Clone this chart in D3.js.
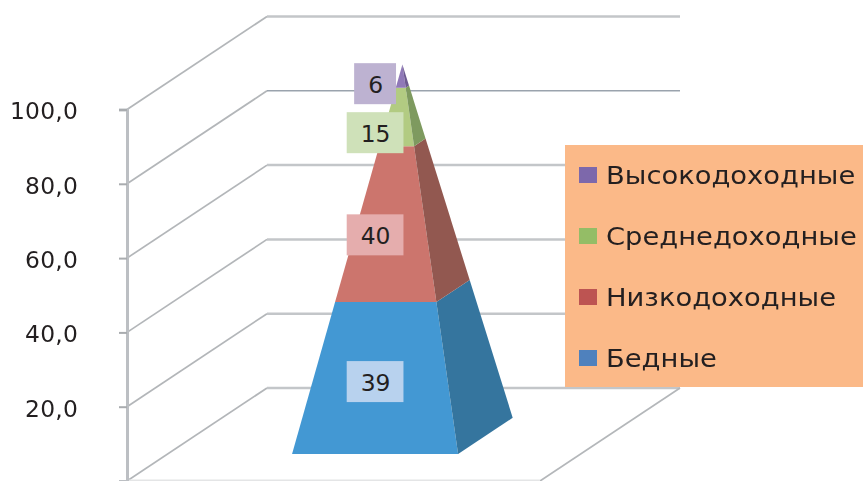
<!DOCTYPE html>
<html>
<head>
<meta charset="utf-8">
<style>
    html, body { margin: 0; padding: 0; background: #fff; overflow: hidden; }
    svg { filter: blur(0.4px); }
    text { font-family: "DejaVu Sans", sans-serif; fill: #231f20; }
</style>
<script src="https://cdn.jsdelivr.net/npm/d3@7"></script>
</head>
<body>
<div id="chart"></div>
<script>
// chart values
const categories = ['Доходы'];
const seriesNames = ['Бедные', 'Низкодоходные', 'Среднедоходные', 'Высокодоходные'];
const seriesValues = [39, 40, 15, 6];
const tickValues = [20, 40, 60, 80, 100];
const gridValues = [0, 20, 40, 60, 80, 100];

// colors, same order as the series
const frontColors = ['#4398d3', '#cc756d', '#b2cb82', '#9079b8'];
const sideColors = ['#35759e', '#925850', '#7e9a5f', '#6d5a90'];
const legendColors = ['#4f81bd', '#bd5452', '#94bd66', '#7d68ab'];
const labelColors = ['#b8d2ee', '#e5adad', '#cfe1b9', '#bdb2d1'];

const width = 863;
const height = 481;

const svg = d3.select('#chart').append('svg')
    .attr('width', width)
    .attr('height', height)
    .style('display', 'block');

// front plane of the 3d box
const y = d3.scaleLinear().domain([0, 100]).range([481, 109.5]);
const x = d3.scaleBand().domain(categories).range([127, 540])
    .paddingInner(0.4265).paddingOuter(0.4265).align(0.504);

// depth goes up and to the right, 0 = front wall, 1 = back wall
const depthX = d3.scaleLinear().domain([0, 1]).range([0, 140]);
const depthY = d3.scaleLinear().domain([0, 1]).range([0, -93]);
const depthFront = 0.29;
const depthBack = 0.68;
const depthMid = (depthFront + depthBack) / 2;

const project = (px, value, depth) => [px + depthX(depth), y(value) + depthY(depth)];

// gridlines: side wall then back wall
const wallRight = 680;
const grid = svg.append('g').attr('fill', 'none');

grid.selectAll('.side')
    .data(gridValues)
    .enter().append('path')
    .classed('side', true)
    .attr('stroke', '#b3b6b9')
    .attr('stroke-width', 1.7)
    .attr('d', d => d3.line()([
        project(x.range()[0], d, 0),
        project(x.range()[0], d, 1)
    ]));

grid.selectAll('.back')
    .data(gridValues)
    .enter().append('path')
    .classed('back', true)
    // the 80 line came out thinner and darker in the original
    .attr('stroke', d => d === 80 ? '#9aa3ad' : '#c3c6c9')
    .attr('stroke-width', d => d === 80 ? 1.5 : 2.5)
    .attr('d', d => d3.line()([
        project(x.range()[0], d, 1),
        [wallRight, y(d) + depthY(1)]
    ]));

// floor edges, right side and front
grid.append('path')
    .attr('stroke', '#b4b7ba')
    .attr('stroke-width', 1.7)
    .attr('d', d3.line()([project(x.range()[1], 0, 1), project(x.range()[1], 0, 0)]));

grid.append('path')
    .attr('stroke', '#e4e5e6')
    .attr('stroke-width', 1.5)
    .attr('d', d3.line()([[x.range()[0], y(0) - 0.8], [x.range()[1], y(0) - 0.8]]));

// value axis
const axis = svg.append('g')
    .attr('transform', `translate(${x.range()[0]},0)`)
    .call(d3.axisLeft(y)
        .tickValues(tickValues)
        .tickSize(8)
        .tickPadding(41)
        .tickFormat(d => d3.format('.1f')(d).replace('.', ',')));

axis.select('.domain')
    .attr('stroke', '#bcbfc3')
    .attr('stroke-width', 3);
axis.selectAll('.tick line')
    .attr('stroke', '#a9acaf')
    .attr('stroke-width', 2);
axis.selectAll('.tick text')
    .attr('dy', '0.4em')
    .style('font-size', '23.4px')
    .style('letter-spacing', '0.2px');

// pyramid layers
const cx = x(categories[0]) + x.bandwidth() / 2;
const halfW = x.bandwidth() / 2;
const halfD = (depthBack - depthFront) / 2;
const tops = d3.cumsum(seriesValues);
const layers = seriesValues.map((v, i) => ({
    name: seriesNames[i],
    value: v,
    from: tops[i] - v,
    to: tops[i],
    index: i
}));

// corner of the pyramid at a stacked value; sx -1/1 left/right, sd -1/1 front/back
const corner = (value, sx, sd) => {
    const k = 1 - value / 100;
    return project(cx + sx * halfW * k, value, depthMid + sd * halfD * k);
};

const layerG = svg.append('g').selectAll('g')
    .data(layers)
    .enter().append('g');

layerG.append('path')
    .attr('fill', d => frontColors[d.index])
    .attr('d', d => d3.line()([
        corner(d.from, -1, -1), corner(d.from, 1, -1),
        corner(d.to, 1, -1), corner(d.to, -1, -1)
    ]) + 'Z');

layerG.append('path')
    .attr('fill', d => sideColors[d.index])
    .attr('d', d => d3.line()([
        corner(d.from, 1, -1), corner(d.from, 1, 1),
        corner(d.to, 1, 1), corner(d.to, 1, -1)
    ]) + 'Z');

// data labels sit on the front of the pyramid
const labelW = 13.5;
const labelH = 41;
const labelG = svg.append('g').selectAll('g')
    .data(layers)
    .enter().append('g')
    .attr('transform', d => {
        const p = project(cx, (d.from + d.to) / 2, depthFront);
        // the top label gets pushed up by the excel layout
        return `translate(${p[0]},${p[1] - (d.index === 3 ? 10 : 0)})`;
    });

const labelRect = labelG.append('rect')
    .attr('fill', d => labelColors[d.index]);

const labelText = labelG.append('text')
    .attr('text-anchor', 'middle')
    .attr('x', 0.5)
    .attr('dy', '0.4em')
    .style('font-size', '23.4px')
    .text(d => d.value);

labelRect.each(function () {
    const w = this.parentNode.querySelector('text').getComputedTextLength() + labelW * 2;
    d3.select(this)
        .attr('x', -w / 2)
        .attr('y', -labelH / 2)
        .attr('width', w)
        .attr('height', labelH);
});

// legend, top row is the last series
const legendBox = { x: 565, y: 145, w: 298, h: 242 };
const legendY = d3.scalePoint()
    .domain(seriesNames.slice().reverse())
    .range([175, 358]);

const legend = svg.append('g');

legend.append('rect')
    .attr('x', legendBox.x)
    .attr('y', legendBox.y)
    .attr('width', legendBox.w)
    .attr('height', legendBox.h)
    .attr('fill', '#fbb988');

const legendItem = legend.selectAll('.legend')
    .data(seriesNames)
    .enter().append('g')
    .classed('legend', true)
    .attr('transform', d => `translate(579,${legendY(d)})`);

legendItem.append('rect')
    .attr('y', -8)
    .attr('width', 18)
    .attr('height', 16)
    .attr('fill', (d, i) => legendColors[i]);

// legend text is a bit wider than the font, the original picture was stretched
legendItem.append('text')
    .attr('transform', 'translate(27,8.5) scale(1.095,1)')
    .style('font-size', '25px')
    .text(d => d);
</script>
</body>
</html>
